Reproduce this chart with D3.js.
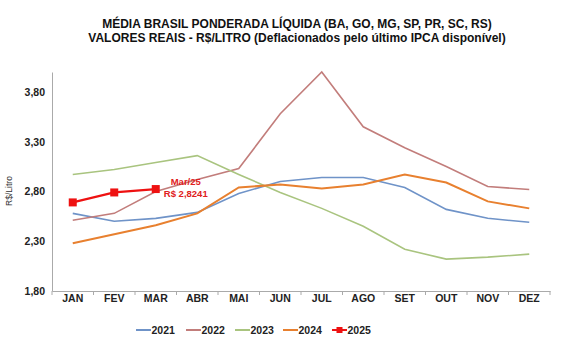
<!DOCTYPE html>
<html><head><meta charset="utf-8">
<script src="https://cdn.jsdelivr.net/npm/d3@7"></script>
<style>body{margin:0;background:#fff;}svg{display:block;font-family:Arial,"Liberation Sans",sans-serif;}</style>
</head><body><svg id="c" width="588" height="354"></svg>
<script>
const months = ["JAN","FEV","MAR","ABR","MAI","JUN","JUL","AGO","SET","OUT","NOV","DEZ"];
const yTicks = [1.80, 2.30, 2.80, 3.30, 3.80];
const s2021 = [2.58,2.50,2.53,2.59,2.78,2.90,2.94,2.94,2.84,2.62,2.53,2.49];
const s2022 = [2.51,2.58,2.80,2.92,3.03,3.58,4.00,3.45,3.24,3.05,2.85,2.82];
const s2023 = [2.97,3.02,3.09,3.16,2.97,2.79,2.63,2.45,2.22,2.12,2.14,2.17];
const s2024 = [2.28,2.37,2.46,2.58,2.84,2.87,2.83,2.87,2.97,2.89,2.70,2.63];
const s2025 = [2.69,2.79,2.8241];
const seriesNames = ["2021","2022","2023","2024","2025"];
const seriesColors = ["#6f93c8","#c27d7b","#a9c47f","#e8802f","#ee1111"];
const series = [s2021,s2022,s2023,s2024,s2025];

const svg = d3.select("#c");
const fmt = v => d3.format(".2f")(v).replace(".", ",");

svg.append("text").attr("x",297).attr("y",28).attr("text-anchor","middle")
  .attr("font-size",12).attr("font-weight","bold").attr("fill","#111")
  .text("MÉDIA BRASIL PONDERADA LÍQUIDA (BA, GO, MG, SP, PR, SC, RS)");
svg.append("text").attr("x",297).attr("y",42).attr("text-anchor","middle")
  .attr("font-size",12).attr("font-weight","bold").attr("fill","#111")
  .text("VALORES REAIS - R$/LITRO (Deflacionados  pelo último IPCA disponível)");

const x = d3.scaleBand().domain(months).range([52,550]);
const y = d3.scaleLinear().domain([1.8,4.0]).range([291,72]);

// y axis
const ya = svg.append("g").attr("transform","translate(52,0)")
  .call(d3.axisLeft(y).tickValues(yTicks).tickSize(0).tickFormat(fmt));
ya.select(".domain").attr("stroke","#aaa");
ya.selectAll("text").attr("font-size",10.5).attr("font-weight","bold").attr("fill","#222")
  .attr("font-family","Arial, Liberation Sans, sans-serif").attr("dx",-4);

// x axis
const xa = svg.append("g").attr("transform","translate(0,291)")
  .call(d3.axisBottom(x).tickSize(0));
xa.select(".domain").attr("stroke","#aaa");
xa.selectAll("text").attr("font-size",10.5).attr("font-weight","bold").attr("fill","#222")
  .attr("font-family","Arial, Liberation Sans, sans-serif").attr("dy",8);
const bounds = months.map(m => x(m)).concat([x.range()[1]]);
xa.selectAll("line.b").data(bounds).enter().append("line").attr("class","b")
  .attr("x1",d=>d).attr("x2",d=>d).attr("y1",0).attr("y2",4).attr("stroke","#aaa");

svg.append("text").attr("transform","translate(12,191) rotate(-90)")
  .attr("text-anchor","middle").attr("font-size",8.5).attr("fill","#333").text("R$/Litro");

const line = d3.line().x((d,i)=>x(months[i])+x.bandwidth()/2).y(d=>y(d));
series.forEach((s,k)=>{
  svg.append("path").datum(s).attr("d",line).attr("fill","none")
    .attr("stroke",seriesColors[k]).attr("stroke-width", k===3?2:(k===4?2.2:1.6));
});
svg.selectAll("rect.m").data(s2025).enter().append("rect").attr("class","m")
  .attr("x",(d,i)=>x(months[i])+x.bandwidth()/2-4).attr("y",d=>y(d)-4)
  .attr("width",8).attr("height",8).attr("fill",seriesColors[4]);

// annotation
const ax = x("MAR")+x.bandwidth()/2, ay = y(s2025[2]);
svg.append("text").attr("x",ax+30).attr("y",ay-4).attr("text-anchor","middle")
  .attr("font-size",9.5).attr("font-weight","bold").attr("fill","#e02020").text("Mar/25");
svg.append("text").attr("x",ax+30).attr("y",ay+8).attr("text-anchor","middle")
  .attr("font-size",9.5).attr("font-weight","bold").attr("fill","#e02020")
  .text("R$ " + d3.format(".4f")(s2025[2]).replace(".", ","));

// legend
const legX = [136,186,235,283,332];
seriesNames.forEach((n,k)=>{
  const g = svg.append("g").attr("transform",`translate(${legX[k]},330)`);
  g.append("line").attr("x1",0).attr("x2",15).attr("y1",0).attr("y2",0)
    .attr("stroke",seriesColors[k]).attr("stroke-width",2);
  if(k===4) g.append("rect").attr("x",4.5).attr("y",-3).attr("width",6).attr("height",6).attr("fill",seriesColors[k]);
  g.append("text").attr("x",15.5).attr("y",4).attr("font-size",10.5).attr("font-weight","bold")
    .attr("fill","#222").text(n);
});
</script></body></html>
